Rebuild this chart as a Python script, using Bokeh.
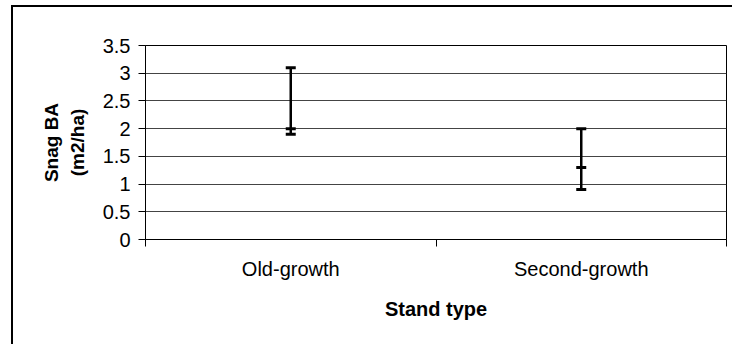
from bokeh.plotting import figure
from bokeh.models import FixedTicker, ColumnDataSource, Range1d
from bokeh.embed import file_html
from bokeh.resources import INLINE
import numpy as np

# Snag basal area by stand type (high / low / close)
stand_types = ["Old-growth", "Second-growth"]
ba_high = [3.1, 2.0]
ba_low = [1.9, 0.9]
ba_close = [2.0, 1.3]

y_ticks = [0, 0.5, 1, 1.5, 2, 2.5, 3, 3.5]
y_tick_labels = ["0", "0.5", "1", "1.5", "2", "2.5", "3", "3.5"]

FONT = "Liberation Sans"

# category centres on a numeric axis, so boundary ticks can sit between them
xc = np.arange(len(stand_types)) + 0.5
src = ColumnDataSource(dict(x=xc, high=ba_high, low=ba_low, close=ba_close))

p = figure(width=721, height=339, output_backend="svg", toolbar_location=None,
           x_range=Range1d(0, len(stand_types)), y_range=Range1d(0, 3.5),
           min_border_left=132, min_border_right=8, min_border_top=38,
           min_border_bottom=107)
# chart-area border on the left and top edges only
p.margin = (5, 0, 0, 11)
p.styles = {"border-left": "2px solid black", "border-top": "2px solid black",
            "border-right": "none", "border-bottom": "none"}
p.background_fill_color = "white"
p.border_fill_color = "white"
p.outline_line_color = "black"
p.outline_line_width = 1

# y axis
p.yaxis.ticker = FixedTicker(ticks=y_ticks)
p.yaxis.major_label_overrides = {float(t): s for t, s in zip(y_ticks, y_tick_labels)}
p.yaxis.major_tick_out = 7
p.yaxis.major_tick_in = 0
p.yaxis.minor_tick_line_color = None
p.yaxis.axis_line_color = "black"
p.yaxis.major_tick_line_color = "black"
p.yaxis.major_label_text_font = FONT
p.yaxis.major_label_text_font_size = "20px"
p.yaxis.major_label_text_color = "black"
p.yaxis.major_label_standoff = 8
p.yaxis.axis_label = "Snag BA\n(m2/ha)"
p.yaxis.axis_label_text_font = FONT
p.yaxis.axis_label_text_font_style = "bold"
p.yaxis.axis_label_text_font_size = "19px"
p.yaxis.axis_label_text_color = "black"
p.yaxis.axis_label_standoff = 12

# x axis: labels at centres, tick marks at category boundaries
p.xaxis.ticker = FixedTicker(ticks=list(xc),
                             minor_ticks=list(range(len(stand_types) + 1)))
p.xaxis.major_label_overrides = {float(v): s for v, s in zip(xc, stand_types)}
p.xaxis.major_tick_line_color = None
p.xaxis.major_tick_out = 0
p.xaxis.major_tick_in = 0
p.xaxis.minor_tick_line_color = "black"
p.xaxis.minor_tick_out = 7
p.xaxis.minor_tick_in = 0
p.xaxis.axis_line_color = "black"
p.xaxis.major_label_text_font = FONT
p.xaxis.major_label_text_font_size = "20px"
p.xaxis.major_label_text_color = "black"
p.xaxis.major_label_standoff = 11
p.xaxis.axis_label = "Stand type"
p.xaxis.axis_label_text_font = FONT
p.xaxis.axis_label_text_font_style = "bold"
p.xaxis.axis_label_text_font_size = "20px"
p.xaxis.axis_label_text_color = "black"
p.xaxis.axis_label_standoff = 15

p.xgrid.grid_line_color = None
p.ygrid.ticker = FixedTicker(ticks=y_ticks)
p.ygrid.grid_line_color = "#444444"
p.ygrid.grid_line_width = 1

# high-low bars with caps at high, low and close
p.segment(x0="x", y0="low", x1="x", y1="high", source=src,
          line_color="black", line_width=2.5)
for col in ("high", "low", "close"):
    p.scatter(x="x", y=col, source=src, marker="dash", size=10,
              line_color="black", line_width=3)

open("out.html", "w").write(file_html(p, INLINE))
